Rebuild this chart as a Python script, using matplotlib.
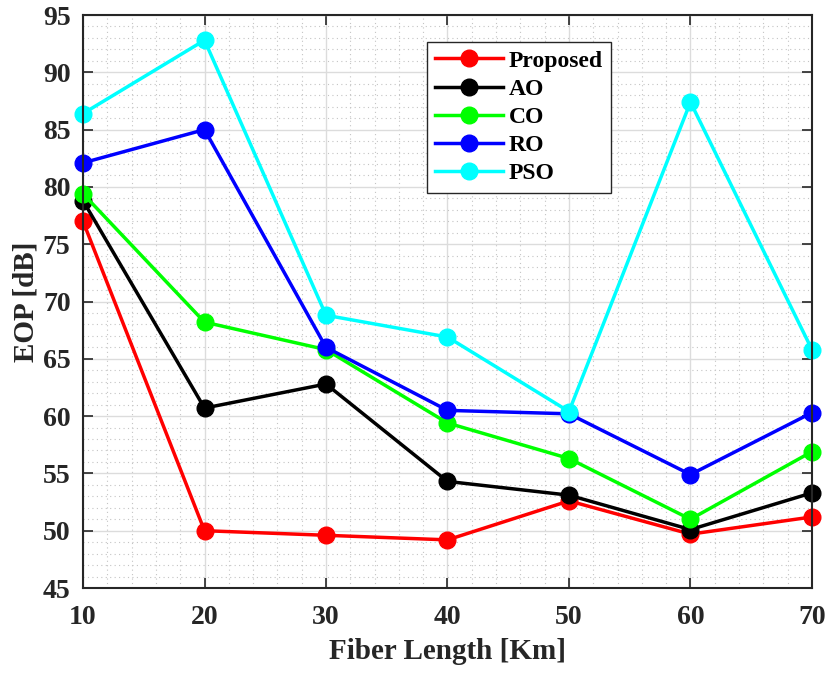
import matplotlib.pyplot as plt
from matplotlib.ticker import MultipleLocator

plt.rcParams['font.family'] = ['Liberation Serif', 'DejaVu Serif']
plt.rcParams['font.weight'] = 'bold'

# data
fiber_length = [10, 20, 30, 40, 50, 60, 70]
proposed = [77.0, 50.0, 49.6, 49.2, 52.6, 49.7, 51.2]
ao = [78.8, 60.7, 62.8, 54.3, 53.1, 50.1, 53.3]
co = [79.4, 68.2, 65.8, 59.4, 56.3, 51.0, 56.9]
ro = [82.1, 85.0, 66.0, 60.5, 60.2, 54.9, 60.3]
pso = [86.4, 92.8, 68.8, 66.9, 60.4, 87.4, 65.8]

series = [("Proposed", proposed, "#ff0000"),
          ("AO", ao, "#000000"),
          ("CO", co, "#00ff00"),
          ("RO", ro, "#0000ff"),
          ("PSO", pso, "#00ffff")]

fig = plt.figure(figsize=(8.26, 6.73), dpi=100)
ax = fig.add_axes([0.1005, 0.1263, 0.8825, 0.8514])

for name, vals, col in series:
    ax.plot(fiber_length, vals, '-o', color=col, lw=2.5, ms=12, label=name,
            clip_on=False)

ax.set_xlim(10, 70)
ax.set_ylim(45, 95)
ax.xaxis.set_major_locator(MultipleLocator(10))
ax.xaxis.set_minor_locator(MultipleLocator(2))
ax.yaxis.set_major_locator(MultipleLocator(5))
ax.yaxis.set_minor_locator(MultipleLocator(1))

ax.grid(which='major', color='#dcdcdc', lw=1.0, ls='-')
ax.grid(which='minor', color='#c4c4c4', lw=0.8, ls=(0, (1, 3)))
ax.set_axisbelow(True)

ax.tick_params(which='major', direction='in', length=7, width=1.2,
               top=True, right=True, labelsize=20, colors='#262626')
ax.tick_params(axis='x', which='major', pad=12)
ax.tick_params(axis='y', which='major', pad=9)
ax.tick_params(which='minor', length=0, top=True, right=True)
for s in ax.spines.values():
    s.set_color('#262626')
    s.set_linewidth(1.5)

ax.set_xlabel('Fiber Length [Km]', fontsize=21, fontweight='bold',
              color='#262626', labelpad=6)
ax.set_ylabel('EOP [dB]', fontsize=21, fontweight='bold',
              color='#262626', labelpad=2)

leg = ax.legend(loc='upper left', bbox_to_anchor=(0.472, 0.953), fontsize=17,
                handlelength=2.85, fancybox=False, framealpha=1,
                edgecolor='#262626', borderpad=0.35, labelspacing=0.28,
                handletextpad=0.25, borderaxespad=0)
leg.get_frame().set_linewidth(1.0)

fig.savefig('out.png', dpi=100)
